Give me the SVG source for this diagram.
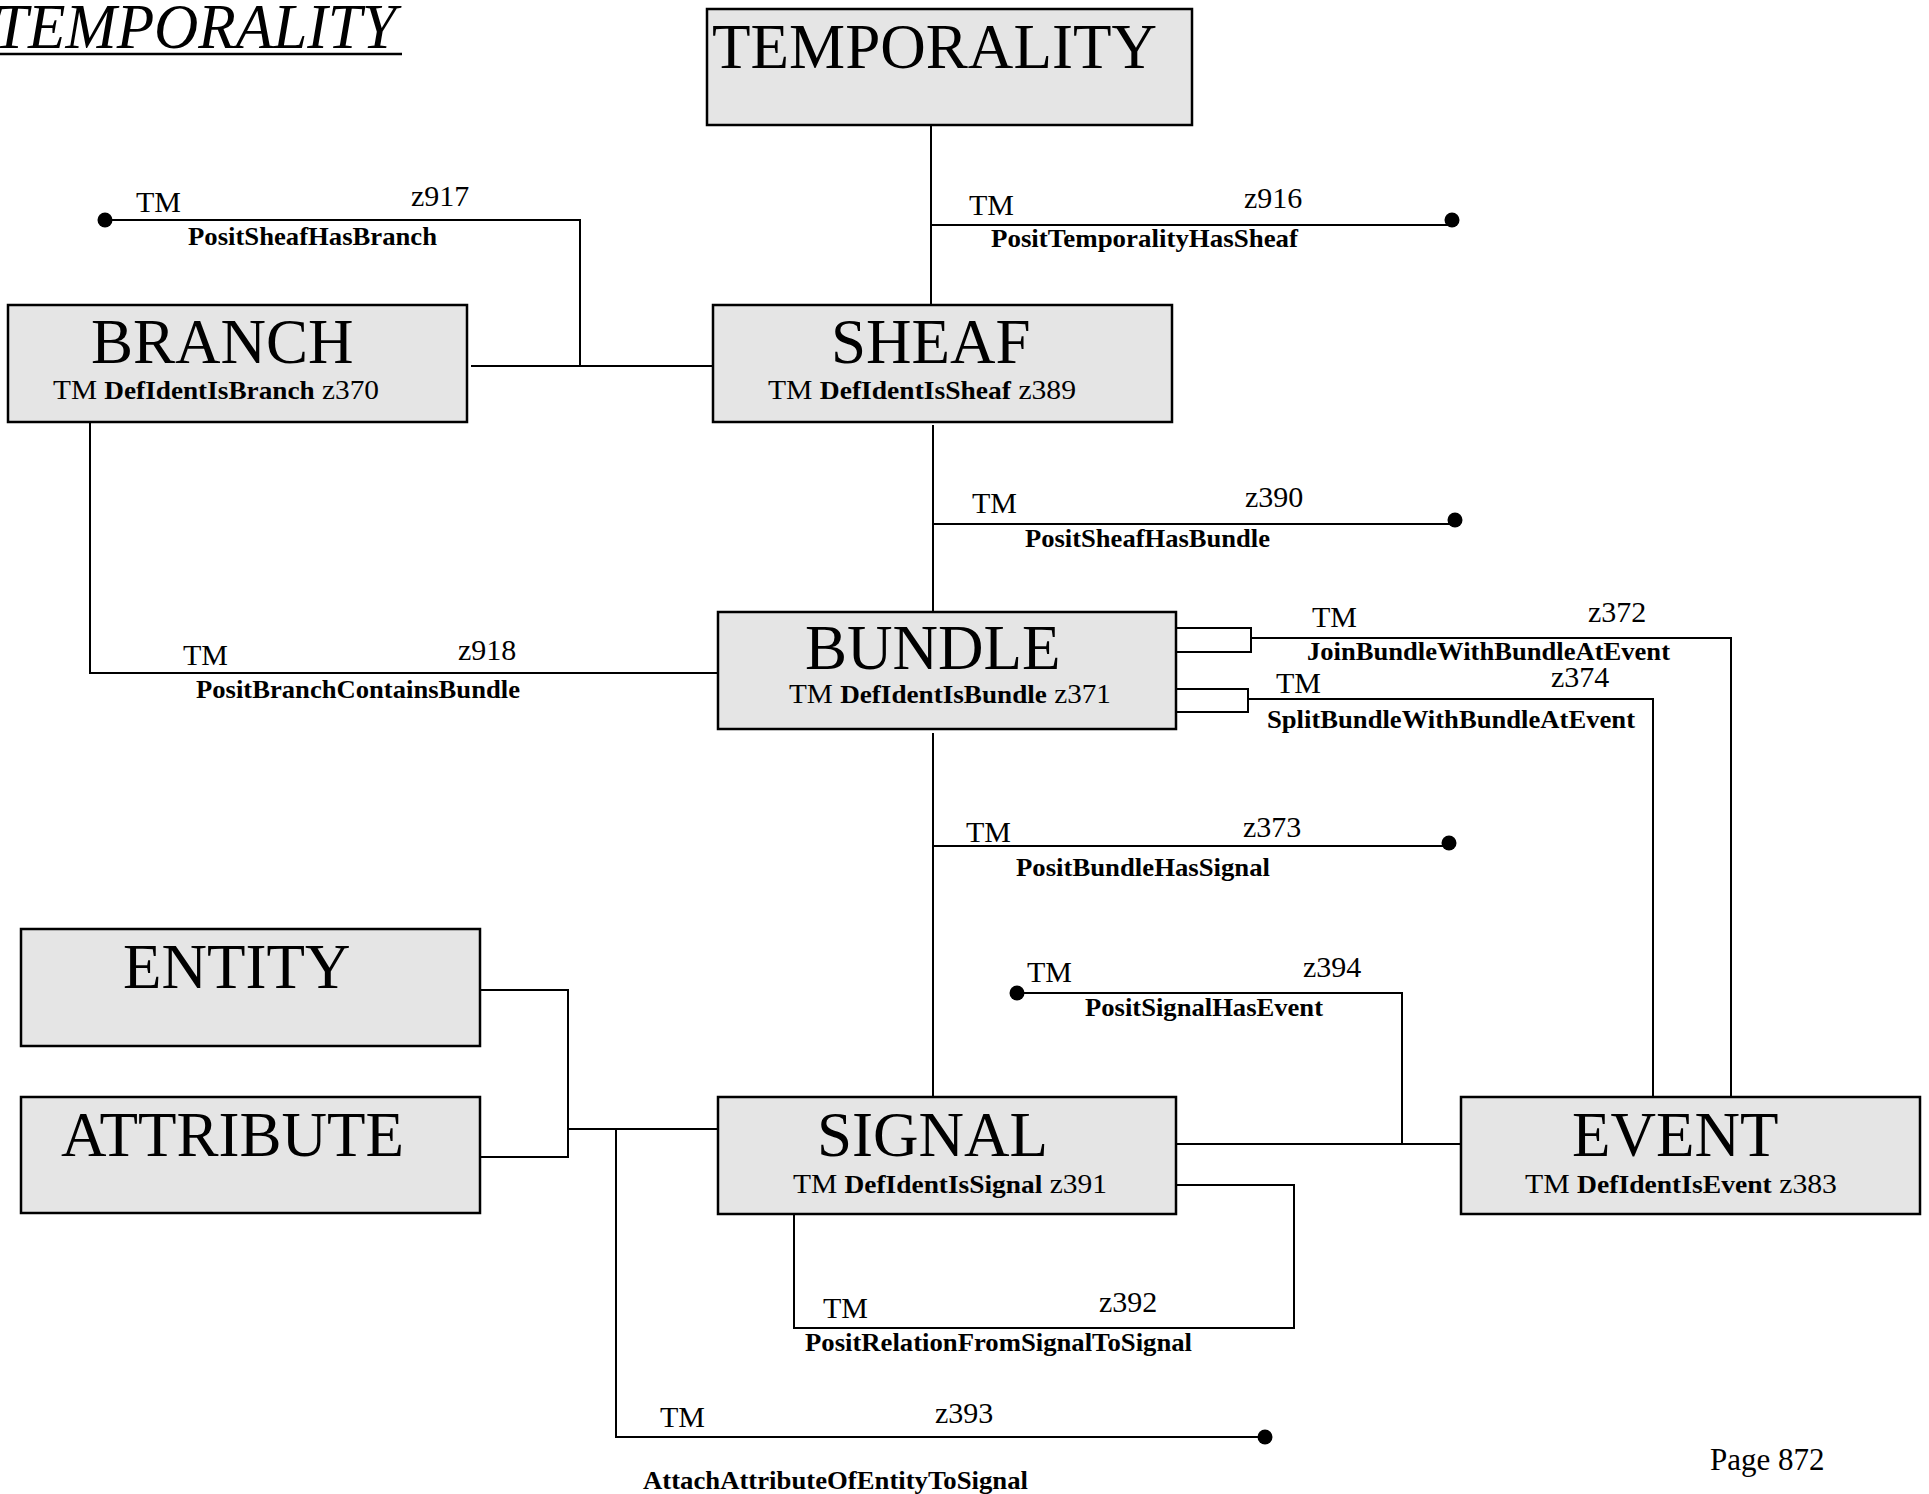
<svg xmlns="http://www.w3.org/2000/svg" width="1929" height="1494" viewBox="0 0 1929 1494">
<style>
text{font-family:"Liberation Serif","Times New Roman",serif;fill:#000}
.box{fill:#e5e5e5;stroke:#000;stroke-width:2.5}
.ln{fill:none;stroke:#000;stroke-width:2}
.big{font-size:63px}
.sub{font-size:28px}
.b{font-weight:bold;font-size:26px}
.lbl{font-size:30px}
.nm{font-weight:bold;font-size:25px}
.dot{fill:#000}
</style>
<rect width="1929" height="1494" fill="#fff"/>
<g id="title">
<text x="-6" y="48" font-style="italic" font-size="63" textLength="402" lengthAdjust="spacingAndGlyphs">TEMPORALITY</text>
<line x1="0" y1="54" x2="402" y2="54" stroke="#000" stroke-width="2.5"/>
</g>
<g id="connectors">
<g id="c-temporality-sheaf"><line class="ln" x1="931" y1="125" x2="931" y2="305"/></g>
<g id="c-z916">
<polyline class="ln" points="931,225 1452,225"/>
<circle class="dot" cx="1452" cy="220" r="7.5"/>
<text class="lbl" x="969" y="215">TM</text><text class="lbl" x="1244" y="208">z916</text>
<text class="nm" x="991" y="247" textLength="307" lengthAdjust="spacingAndGlyphs">PositTemporalityHasSheaf</text>
</g>
<g id="c-z917">
<polyline class="ln" points="105,220 580,220 580,366"/>
<circle class="dot" cx="105" cy="220" r="7.5"/>
<text class="lbl" x="136" y="212">TM</text><text class="lbl" x="411" y="206">z917</text>
<text class="nm" x="188" y="245" textLength="249" lengthAdjust="spacingAndGlyphs">PositSheafHasBranch</text>
</g>
<g id="c-branch-sheaf"><line class="ln" x1="471" y1="366" x2="713" y2="366"/></g>
<g id="c-sheaf-bundle"><line class="ln" x1="933" y1="425" x2="933" y2="612"/></g>
<g id="c-z390">
<polyline class="ln" points="933,524 1455,524"/>
<circle class="dot" cx="1455" cy="520" r="7.5"/>
<text class="lbl" x="972" y="513">TM</text><text class="lbl" x="1245" y="507">z390</text>
<text class="nm" x="1025" y="547" textLength="245" lengthAdjust="spacingAndGlyphs">PositSheafHasBundle</text>
</g>
<g id="c-z918">
<polyline class="ln" points="90,422 90,673 718,673"/>
<text class="lbl" x="183" y="665">TM</text><text class="lbl" x="458" y="660">z918</text>
<text class="nm" x="196" y="698" textLength="324" lengthAdjust="spacingAndGlyphs">PositBranchContainsBundle</text>
</g>
<g id="c-z372">
<polyline class="ln" points="1176,628 1251,628 1251,652 1176,652"/>
<polyline class="ln" points="1251,638 1731,638 1731,1097"/>
<text class="lbl" x="1312" y="627">TM</text><text class="lbl" x="1588" y="622">z372</text>
<text class="nm" x="1307" y="660" textLength="363" lengthAdjust="spacingAndGlyphs">JoinBundleWithBundleAtEvent</text>
</g>
<g id="c-z374">
<polyline class="ln" points="1176,689 1248,689 1248,712 1176,712"/>
<polyline class="ln" points="1248,699 1653,699 1653,1097"/>
<text class="lbl" x="1276" y="693">TM</text><text class="lbl" x="1551" y="687">z374</text>
<text class="nm" x="1267" y="728" textLength="368" lengthAdjust="spacingAndGlyphs">SplitBundleWithBundleAtEvent</text>
</g>
<g id="c-bundle-signal"><line class="ln" x1="933" y1="733" x2="933" y2="1097"/></g>
<g id="c-z373">
<polyline class="ln" points="933,846 1449,846"/>
<circle class="dot" cx="1449" cy="843" r="7.5"/>
<text class="lbl" x="966" y="842">TM</text><text class="lbl" x="1243" y="837">z373</text>
<text class="nm" x="1016" y="876" textLength="254" lengthAdjust="spacingAndGlyphs">PositBundleHasSignal</text>
</g>
<g id="c-z394">
<polyline class="ln" points="1017,993 1402,993 1402,1144"/>
<circle class="dot" cx="1017" cy="993" r="7.5"/>
<text class="lbl" x="1027" y="982">TM</text><text class="lbl" x="1303" y="977">z394</text>
<text class="nm" x="1085" y="1016" textLength="238" lengthAdjust="spacingAndGlyphs">PositSignalHasEvent</text>
</g>
<g id="c-signal-event"><line class="ln" x1="1176" y1="1144" x2="1463" y2="1144"/></g>
<g id="c-entity-attribute-signal">
<polyline class="ln" points="478,990 568,990 568,1157 480,1157"/>
<line class="ln" x1="568" y1="1129" x2="718" y2="1129"/>
</g>
<g id="c-z393">
<polyline class="ln" points="616,1129 616,1437 1265,1437"/>
<circle class="dot" cx="1265" cy="1437" r="7.5"/>
<text class="lbl" x="660" y="1427">TM</text><text class="lbl" x="935" y="1423">z393</text>
<text class="nm" x="643" y="1489" textLength="385" lengthAdjust="spacingAndGlyphs">AttachAttributeOfEntityToSignal</text>
</g>
<g id="c-z392">
<polyline class="ln" points="794,1214 794,1328 1294,1328 1294,1185 1172,1185"/>
<text class="lbl" x="823" y="1318">TM</text><text class="lbl" x="1099" y="1312">z392</text>
<text class="nm" x="805" y="1351" textLength="387" lengthAdjust="spacingAndGlyphs">PositRelationFromSignalToSignal</text>
</g>
</g>
<g id="node-temporality">
<rect class="box" x="707" y="9" width="485" height="116"/>
<text class="big" x="712" y="68" textLength="445" lengthAdjust="spacingAndGlyphs">TEMPORALITY</text>
</g>
<g id="node-branch">
<rect class="box" x="8" y="305" width="459" height="117"/>
<text class="big" x="91" y="363">BRANCH</text>
<text class="sub" x="53" y="399" textLength="326" lengthAdjust="spacingAndGlyphs">TM <tspan class="b">DefIdentIsBranch</tspan> z370</text>
</g>
<g id="node-sheaf">
<rect class="box" x="713" y="305" width="459" height="117"/>
<text class="big" x="831" y="363">SHEAF</text>
<text class="sub" x="768" y="399" textLength="308" lengthAdjust="spacingAndGlyphs">TM <tspan class="b">DefIdentIsSheaf</tspan> z389</text>
</g>
<g id="node-bundle">
<rect class="box" x="718" y="612" width="458" height="117"/>
<text class="big" x="805" y="669">BUNDLE</text>
<text class="sub" x="789" y="703" textLength="322" lengthAdjust="spacingAndGlyphs">TM <tspan class="b">DefIdentIsBundle</tspan> z371</text>
</g>
<g id="node-entity">
<rect class="box" x="21" y="929" width="459" height="117"/>
<text class="big" x="123" y="988">ENTITY</text>
</g>
<g id="node-attribute">
<rect class="box" x="21" y="1097" width="459" height="116"/>
<text class="big" x="61" y="1156">ATTRIBUTE</text>
</g>
<g id="node-signal">
<rect class="box" x="718" y="1097" width="458" height="117"/>
<text class="big" x="817" y="1156">SIGNAL</text>
<text class="sub" x="793" y="1193" textLength="314" lengthAdjust="spacingAndGlyphs">TM <tspan class="b">DefIdentIsSignal</tspan> z391</text>
</g>
<g id="node-event">
<rect class="box" x="1461" y="1097" width="459" height="117"/>
<text class="big" x="1572" y="1156">EVENT</text>
<text class="sub" x="1525" y="1193" textLength="312" lengthAdjust="spacingAndGlyphs">TM <tspan class="b">DefIdentIsEvent</tspan> z383</text>
</g>
<text x="1710" y="1470" font-size="31">Page 872</text>
</svg>
